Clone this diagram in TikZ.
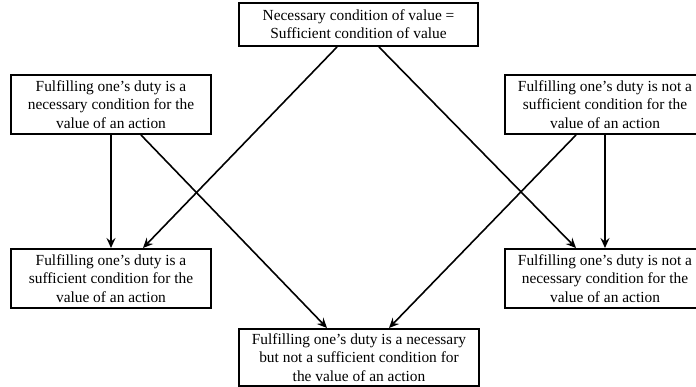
\documentclass[tikz,border=0pt]{standalone}
\usepackage{fontspec}
\setmainfont{Liberation Serif}
\usetikzlibrary{arrows.meta,calc}
\begin{document}
\begin{tikzpicture}[x=1pt,y=1pt,
  box/.style={draw,line width=2pt,align=center,inner sep=0pt,
    font=\fontsize{15.4}{18.2}\selectfont},
  arr/.style={line width=1.6pt,-{Stealth[length=10pt,width=9pt,inset=3.5pt]}}]
\useasboundingbox (0,0) rectangle (696,387);
\node[box,minimum width=239pt,minimum height=43pt] (top) at (358.5,362.5)
  {Necessary condition of value =\\Sufficient condition of value};
\node[box,minimum width=200pt,minimum height=59pt] (tl) at (111,282.5)
  {Fulfilling one’s duty is a\\necessary condition for the\\value of an action};
\node[box,minimum width=200pt,minimum height=59pt] (tr) at (605,282.5)
  {Fulfilling one’s duty is not a\\sufficient condition for the\\value of an action};
\node[box,minimum width=200pt,minimum height=59pt] (lb) at (111,108.5)
  {Fulfilling one’s duty is a\\sufficient condition for the\\value of an action};
\node[box,minimum width=200pt,minimum height=59pt] (rb) at (605,108.5)
  {Fulfilling one’s duty is not a\\necessary condition for the\\value of an action};
\node[box,minimum width=240pt,minimum height=57pt] (bot) at (359,29.5)
  {Fulfilling one’s duty is a necessary\\but not a sufficient condition for\\the value of an action};
\draw[arr] (tl.south) -- (lb.north);
\draw[arr] (tr.south) -- (rb.north);
\draw[arr] ([xshift=30pt]tl.south) -- ([xshift=-32pt]bot.north);
\draw[arr] ([xshift=-21.5pt]top.south) -- ([xshift=32pt]lb.north);
\draw[arr] ([xshift=20.5pt]top.south) -- ([xshift=-29pt]rb.north);
\draw[arr] ([xshift=-29pt]tr.south) -- ([xshift=30pt]bot.north);
\end{tikzpicture}
\end{document}
